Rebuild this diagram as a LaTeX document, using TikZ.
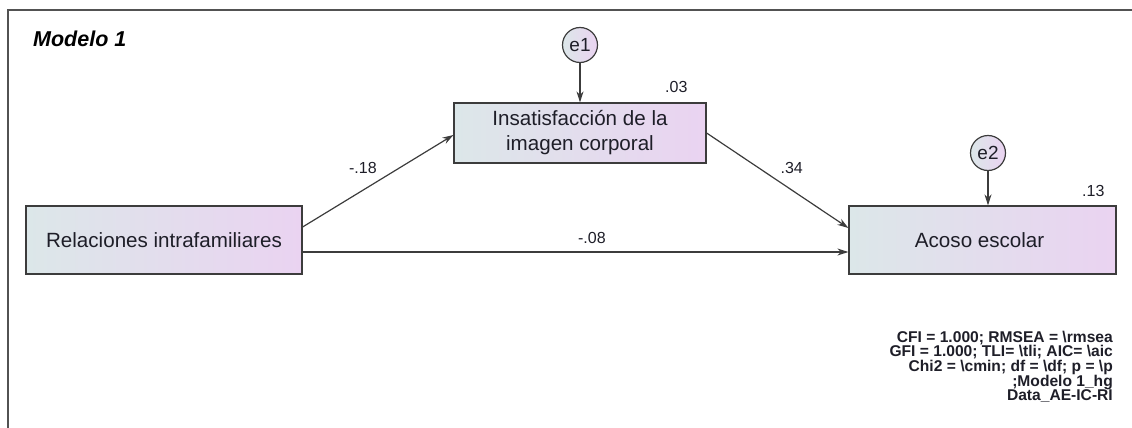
\documentclass[tikz,border=0pt]{standalone}
\usepackage{fontspec}
\setmainfont{Liberation Sans}
\usetikzlibrary{arrows.meta}
\definecolor{boxleft}{HTML}{DCE7E9}
\definecolor{boxright}{HTML}{EAD3F1}
\definecolor{edge}{HTML}{3C3C3C}
\definecolor{ink}{HTML}{1E1E28}
\begin{document}
\begin{tikzpicture}
		[
			x=1pt, y=-1pt,
			var/.style={rectangle, draw=edge, line width=1.2pt, left color=boxleft, right color=boxright,
				text=ink, align=center, font=\fontsize{20.6}{25}\selectfont},
			err/.style={circle, draw=edge, line width=1.2pt, left color=boxleft, right color=boxright,
				minimum size=35pt, inner sep=0pt, text=ink, font=\fontsize{19}{22}\selectfont},
			arr/.style={draw=edge, line width=1.2pt, -{Stealth[length=11pt, width=7pt]}},
			lbl/.style={inner sep=0pt, text=ink, font=\fontsize{16}{18}\selectfont},
			frame/.style={draw=black!68, line width=2.2pt},
		]

		\useasboundingbox (0,0) rectangle (1132,428);
		\draw[frame] (8,428) -- (8,10) -- (1132,10);
		\node[anchor=base west, inner sep=0pt, font=\fontsize{21.5}{24}\selectfont\bfseries\itshape] (title) at (33,47) {Modelo 1};

		% Variables
		\foreach \name/\x/\y/\w/\h/\text in
		{
			rel/164/240/276/68/{Relaciones intrafamiliares},
			ic/580/133/252/60/{Insatisfacción de la\\imagen corporal},
			ae/982.5/240/267/68/{Acoso escolar}
		}
			\node[var, minimum width=\w, minimum height=\h] (\name) at (\x,\y) {\text};

		% Errors
		\foreach \name/\x/\y in
		{
			e1/580/45,
			e2/988/153
		}
			\node[err] (\name) at (\x,\y) {\name};

		\draw[arr] (e1) -- (e1 |- ic.north);
		\draw[arr] (e2) -- (e2 |- ae.north);

		% Paths
		\foreach \u/\su/\v/\sv/\p/\d/\text in
		{
			rel/13/ic/-2/0.4/16/{-.18},
			ic/0/ae/12/0.6/16/{.34},
			rel/-12/ae/-12/0.53/8/{-.08}
		}
			\draw[arr] ([yshift=\su pt]\u.east) -- node[lbl, pos=\p, above=\d pt] {\text} ([yshift=\sv pt]\v.west);

		% R2
		\node[lbl, anchor=south east] (r2ic) at ([xshift=-19pt, yshift=10pt]ic.north east) {.03};
		\node[lbl, anchor=south east] (r2ae) at ([xshift=-12pt, yshift=9pt]ae.north east) {.13};

		% Fit
		\node[anchor=north east, inner sep=0pt, align=right, text=ink, font=\fontsize{15.6}{14.3}\selectfont\bfseries] (fit) at (1113,331)
			{CFI = 1.000; RMSEA = \textbackslash rmsea\\
			 GFI = 1.000; TLI= \textbackslash tli; AIC= \textbackslash aic\\
			 Chi2 = \textbackslash cmin; df = \textbackslash df; p = \textbackslash p\\
			 ;Modelo 1\_hg\\
			 Data\_AE-IC-RI};

		\end{tikzpicture}
\end{document}
